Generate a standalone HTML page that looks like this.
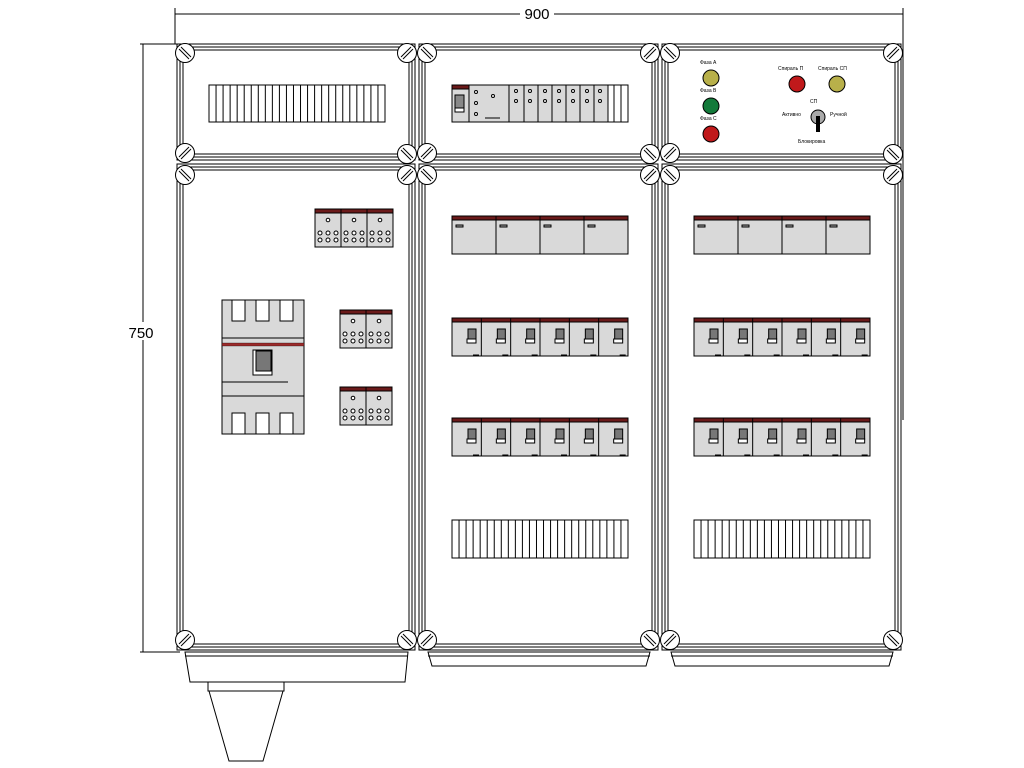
<!DOCTYPE html>
<html><head><meta charset="utf-8"><style>
html,body{margin:0;padding:0;background:#fff;width:1024px;height:768px;overflow:hidden}
svg{display:block}
text{font-family:"Liberation Sans",sans-serif}
</style></head><body>
<svg id="s" width="1024" height="768" viewBox="0 0 1024 768" xmlns="http://www.w3.org/2000/svg">
<g stroke="#000" fill="none" stroke-width="1">
<line x1="175" y1="8" x2="175" y2="44"/><line x1="903" y1="8" x2="903" y2="420"/>
<line x1="175" y1="14" x2="903" y2="14"/>
<line x1="140" y1="44" x2="180" y2="44"/><line x1="140" y1="652" x2="180" y2="652"/>
<line x1="143" y1="44" x2="143" y2="652"/>
</g>
<rect x="520" y="5" width="34" height="16" fill="#fff"/>
<text x="537" y="19" font-size="15" text-anchor="middle">900</text>
<rect x="125" y="322" width="34" height="18" fill="#fff"/>
<text x="141" y="338" font-size="15" text-anchor="middle">750</text>
<g id="g"></g>
<g font-size="5" fill="#000">
<text x="700" y="64">Фаза A</text><text x="700" y="92">Фаза B</text><text x="700" y="120">Фаза C</text>
<text x="778" y="70">Спираль П</text><text x="818" y="70">Спираль СП</text>
<text x="810" y="103">СП</text><text x="782" y="116">Активно</text><text x="830" y="116">Ручной</text>
<text x="798" y="143">Блокировка</text>
</g>
</svg>
<script>
var h='';
function R(x,y,w,hh,f,sw){h+='<rect x="'+x+'" y="'+y+'" width="'+w+'" height="'+hh+'" fill="'+(f||'none')+'" stroke="#000" stroke-width="'+(sw||1)+'"/>';}
function L(a,b,c,d){h+='<line x1="'+a+'" y1="'+b+'" x2="'+c+'" y2="'+d+'" stroke="#000"/>';}
function C(x,y,r,f){h+='<circle cx="'+x+'" cy="'+y+'" r="'+r+'" fill="'+(f||'#fff')+'" stroke="#000"/>';}
function P(p,f){h+='<polygon points="'+p+'" fill="'+(f||'#fff')+'" stroke="#000"/>';}
function screw(x,y,d){C(x,y,9.5);var k=6;if(d)L(x-k,y-k+2,x+k-2,y+k),L(x-k+2,y-k,x+k,y+k-2);else L(x-k,y+k-2,x+k-2,y-k),L(x-k+2,y+k,x+k,y-k+2);}
function panel(x1,y1,x2,y2){R(x1,y1,x2-x1,y2-y1);R(x1+3,y1+3,x2-x1-6,y2-y1-6);R(x1+6,y1+6,x2-x1-12,y2-y1-12);}
var cols=[[177,415],[419,658],[662,901]];
P('185,652 408,652 405,682 190,682');P('208,682 284,682 284,691 208,691');P('209,691 283,691 263,761 229,761');
P('428,652 650,652 646,666 432,666');P('671,652 893,652 889,666 675,666');
L(428,656,650,656);L(671,656,893,656);L(185,656,408,656);
cols.forEach(function(c){panel(c[0],44,c[1],160);panel(c[0],164,c[1],650);});
cols.forEach(function(c){var a=c[0]+8,b=c[1]-8;
 screw(a,53,1);screw(b,53,0);screw(a,153,0);screw(b,154,1);screw(a,175,1);screw(b,175,0);screw(a,640,0);screw(b,640,1);});
function strip(x,y,w,hh,n){R(x,y,w,hh);for(var i=1;i<n;i++)L(x+w*i/n,y,x+w*i/n,y+hh);}
strip(209,85,176,37,25);strip(452,520,176,38,25);strip(694,520,176,38,25);
R(452,85,176,37,'#d9d9d9');R(452,85,17,4,'#6b1a1a');R(455,95,9,13,'#888');R(455,108,9,4,'#fff');L(469,85,469,122);
for(var i=0;i<3;i++)C(476,92+i*11,1.5,'#fff');C(493,96,1.5,'#fff');L(485,118,500,118);
var xs=[509,524,538,552,566,580,594,608,614,621];
xs.forEach(function(x){L(x,85,x,122);});
[516,530,545,559,573,587,600].forEach(function(x){C(x,91,1.5,'#fff');C(x,101,1.5,'#fff');});
h+='<rect x="608" y="85" width="20" height="37" fill="#fff" stroke="#000"/>';L(614,85,614,122);L(621,85,621,122);
function wide(x,y){R(x,y,176,38,'#d9d9d9');R(x,y,176,4,'#6b1a1a');for(var i=0;i<4;i++){var xx=x+i*44;if(i)L(xx,y,xx,y+38);R(xx+4,y+9,7,2,'#aaa');}}
function brk(x,y){var w=176/6;R(x,y,176,38,'#d9d9d9');R(x,y,176,4,'#6b1a1a');for(var i=0;i<6;i++){var xx=x+i*w;if(i)L(xx,y,xx,y+38);R(xx+16,y+11,8,10,'#777');R(xx+15,y+21,9,4,'#fff');L(xx+21,y+37,xx+27,y+37);}}
[452,694].forEach(function(x){wide(x,216);brk(x,318);brk(x,418);});
R(222,300,82,134,'#d9d9d9');for(var i=0;i<3;i++){R(232+i*24,300,13,21,'#fff');R(232+i*24,413,13,21,'#fff');}
L(222,338,304,338);L(222,396,304,396);R(222,343,82,3,'#9b2a2a',0.3);R(253,350,19,25,'#fff');R(256,351,15,20,'#777');L(222,382,288,382);
function blk(x,y,n){var w=26;R(x,y,w*n,38,'#d9d9d9');R(x,y,w*n,4,'#6b1a1a');for(var i=0;i<n;i++){var xx=x+i*w;if(i)L(xx,y,xx,y+38);C(xx+13,y+11,1.8);for(var j=0;j<3;j++){C(xx+5+j*8,y+24,2);C(xx+5+j*8,y+31,2);}}}
blk(315,209,3);blk(340,310,2);blk(340,387,2);
C(711,78,8,'#b8b04a');C(711,106,8,'#137a3a');C(711,134,8,'#c0191b');C(797,84,8,'#c0191b');C(837,84,8,'#b8b04a');
C(818,117,7,'#aaa');h+='<rect x="816" y="116" width="4" height="16" fill="#000"/>';
document.getElementById('g').innerHTML=h;
</script>
</body></html>
